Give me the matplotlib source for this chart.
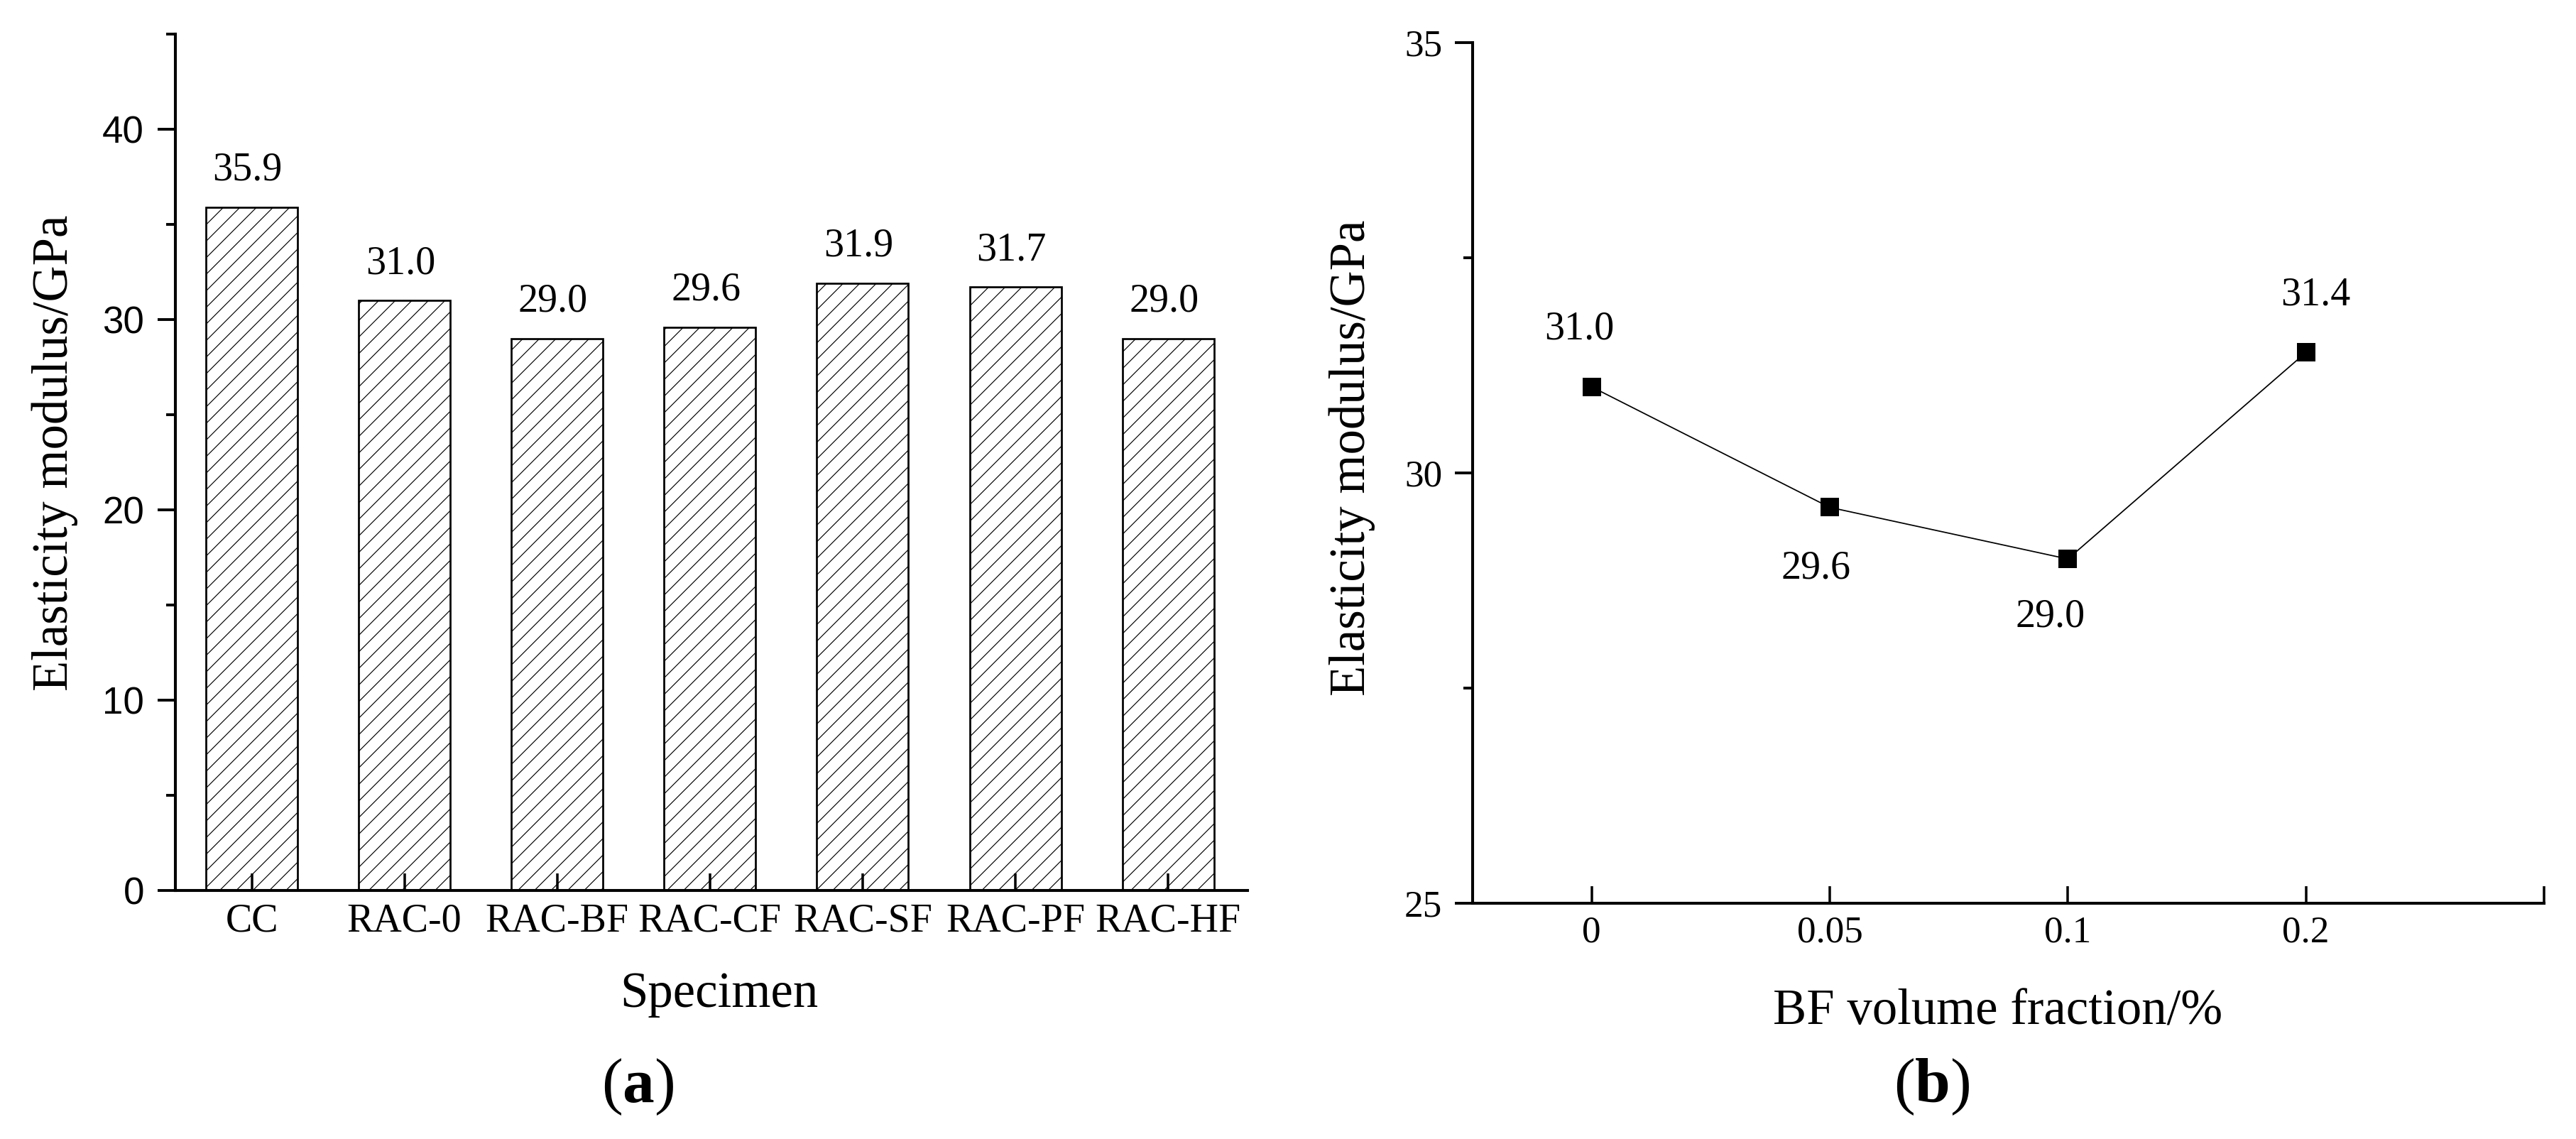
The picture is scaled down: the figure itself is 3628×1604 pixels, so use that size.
import matplotlib
matplotlib.use('Agg')
import matplotlib.pyplot as plt

# ---------------- data ----------------
specimens = ['CC', 'RAC-0', 'RAC-BF', 'RAC-CF', 'RAC-SF', 'RAC-PF', 'RAC-HF']
modulus = [35.9, 31.0, 29.0, 29.6, 31.9, 31.7, 29.0]

bf_fraction = ['0', '0.05', '0.1', '0.2']
bf_modulus = [31.0, 29.6, 29.0, 31.4]
# label offsets (points) for panel b annotations
bf_label_dx = [-4.6, -4.9, -6.4, 3.6]
bf_label_dy = [17.2, -25.7, -24.4, 17.2]

# ---------------- style ----------------
plt.rcParams['hatch.linewidth'] = 0.3
plt.rcParams['hatch.color'] = 'black'
plt.rcParams['mathtext.fontset'] = 'custom'
plt.rcParams['mathtext.bf'] = 'Liberation Serif:bold'
plt.rcParams['mathtext.rm'] = 'Liberation Serif'

SERIF = 'Liberation Serif'
SANS = 'Liberation Sans'
DPI = 280

fig = plt.figure(figsize=(3628 / DPI, 1604 / DPI), dpi=DPI)

# ---------------- panel (a) ----------------
ax1 = fig.add_axes([0.06808, 0.21820, 0.41621, 0.75187])
x1 = list(range(len(specimens)))
ax1.bar(x1, modulus, width=0.6, facecolor='white', edgecolor='black',
        linewidth=0.7, hatch='////')
for xi, v in zip(x1, modulus):
    ax1.annotate(f'{v:.1f}', (xi, v), xytext=(-1.5, 9.8), textcoords='offset points',
                 ha='center', va='baseline', fontsize=14.4, family=SERIF)

ax1.set_xlim(-0.5, 6.52)
ax1.set_ylim(0, 45)
ax1.set_xticks(x1)
ax1.set_xticklabels(specimens, family=SERIF, fontsize=14.4)
ax1.set_yticks([0, 10, 20, 30, 40])
ax1.set_yticks([5, 15, 25, 35, 45], minor=True)
for lab in ax1.get_yticklabels():
    lab.set_family(SANS)
    lab.set_fontsize(13.6)
ax1.tick_params(axis='y', which='major', direction='out', length=6.4, width=1.0, pad=4.9)
ax1.tick_params(axis='y', which='minor', direction='out', length=3.3, width=1.0)
ax1.tick_params(axis='x', which='major', direction='in', length=6.2, width=0.9, pad=4.5)
for s in ['top', 'right']:
    ax1.spines[s].set_visible(False)
for s in ['left', 'bottom']:
    ax1.spines[s].set_linewidth(1.05)

ax1.set_xlabel('Specimen', family=SERIF, fontsize=18.2)
ax1.xaxis.set_label_coords(0.507, -0.136)
ax1.xaxis.label.set_va('baseline')
ax1.set_ylabel('Elasticity modulus/GPa', family=SERIF, fontsize=18.2)
ax1.yaxis.set_label_coords(-0.1007, 0.233)
ax1.yaxis.label.set_va('baseline')
ax1.yaxis.label.set_ha('left')

# ---------------- panel (b) ----------------
ax2 = fig.add_axes([0.57166, 0.20698, 0.41593, 0.75561])
x2 = list(range(len(bf_fraction)))
ax2.plot(x2, bf_modulus, color='black', lw=0.45, marker='s', ms=6.9, mew=0,
         mfc='black')
for xi, v, dx, dy in zip(x2, bf_modulus, bf_label_dx, bf_label_dy):
    ax2.annotate(f'{v:.1f}', (xi, v), xytext=(dx, dy), textcoords='offset points',
                 ha='center', va='baseline', fontsize=14.4, family=SERIF)

ax2.set_xlim(-0.5, 4.0)
ax2.set_ylim(25, 35)
ax2.set_xticks(x2 + [4.0])
ax2.set_xticklabels(bf_fraction + [''], family=SERIF, fontsize=13.7)
ax2.set_yticks([25, 30, 35])
ax2.set_yticks([27.5, 32.5], minor=True)
for lab in ax2.get_yticklabels():
    lab.set_family(SERIF)
    lab.set_fontsize(13.7)
ax2.tick_params(axis='y', which='major', direction='out', length=6.4, width=1.0, pad=4.6)
ax2.tick_params(axis='y', which='minor', direction='out', length=3.3, width=1.0)
ax2.tick_params(axis='x', which='major', direction='in', length=6.2, width=0.9, pad=4.5)
for s in ['top', 'right']:
    ax2.spines[s].set_visible(False)
for s in ['left', 'bottom']:
    ax2.spines[s].set_linewidth(1.05)

ax2.set_xlabel('BF volume fraction/%', family=SERIF, fontsize=18.2)
ax2.xaxis.set_label_coords(0.49, -0.1403)
ax2.xaxis.label.set_va('baseline')
ax2.set_ylabel('Elasticity modulus/GPa', family=SERIF, fontsize=18.2)
ax2.yaxis.set_label_coords(-0.1007, 0.241)
ax2.yaxis.label.set_va('baseline')
ax2.yaxis.label.set_ha('left')

# ---------------- captions ----------------
fig.text(0.2475, 0.0324, r'($\mathbf{a}$)', ha='center', va='baseline',
         fontsize=23, family=SERIF)
fig.text(0.750, 0.0324, r'($\mathbf{b}$)', ha='center', va='baseline',
         fontsize=23, family=SERIF)

fig.savefig('out.png', dpi=DPI, facecolor='white')
